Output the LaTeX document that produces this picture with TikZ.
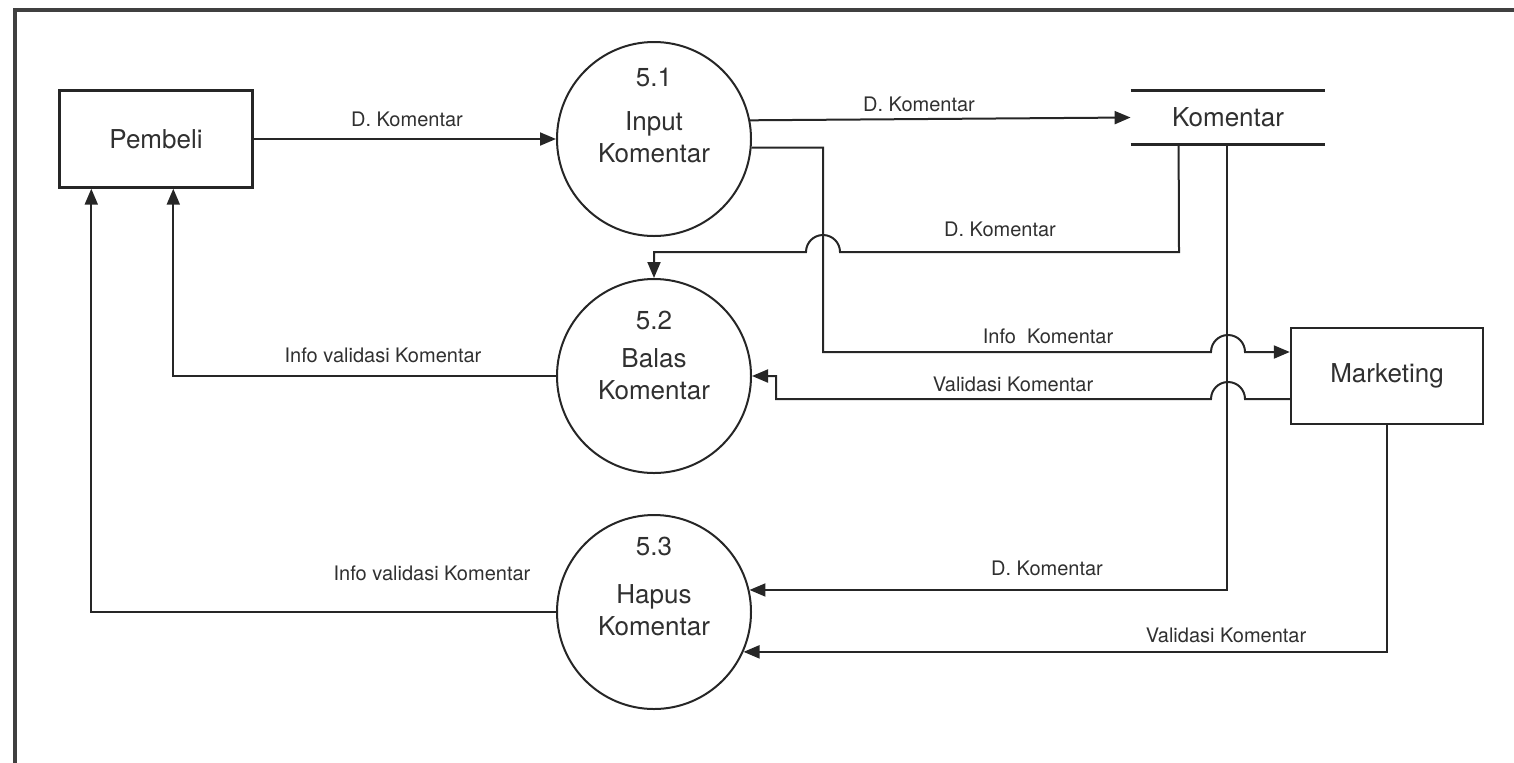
\documentclass[tikz,border=0pt]{standalone}
\usepackage{fontspec}
\setmainfont{TeX Gyre Heros}
\usetikzlibrary{arrows.meta,calc}
\definecolor{ln}{HTML}{262626}
\definecolor{tx}{HTML}{303030}
\begin{document}
\begin{tikzpicture}[x=0.5pt,y=-0.5pt,
  flow/.style={draw=ln,line width=1pt,-{Triangle[length=8pt,width=6.5pt]}},
  ent/.style={draw=ln,line width=1.2pt,minimum width=96.5pt,minimum height=48.5pt,inner sep=0pt,text=tx,font=\fontsize{13}{15}\selectfont},
  proc/.style={draw=ln,line width=1pt,circle,minimum size=97pt,inner sep=0pt},
  ptext/.style={inner sep=0pt,align=center,text=tx,font=\fontsize{13}{16}\selectfont},
  lbl/.style={inner sep=0pt,text=tx,font=\fontsize{10}{12}\selectfont}]
\useasboundingbox (0,0) rectangle (1514,762);
% frame (cropped at right and bottom)
\draw[line width=2pt,draw=black!75] (15,800) -- (15,10) -- (1540,10);

% entities
\node[ent] (pem) at (156,139) {Pembeli};
\node[ent,minimum width=96pt,minimum height=48pt] (mk) at (1387,376) {Marketing};

% data store
\node[inner sep=0pt,minimum width=97pt,minimum height=26.5pt,text=tx,font=\fontsize{13}{15}\selectfont] (store) at (1228,117.5) {Komentar};
\draw[draw=ln,line width=1.2pt] (store.north west) -- (store.north east);
\draw[draw=ln,line width=1.2pt] (store.south west) -- (store.south east);

% processes
\node[proc] (c1) at (654,139) {};
\node[ptext] (n1) at ($(c1)+(0,-62)$) {5.1};
\node[ptext] (t1) at ($(c1)+(0,-2)$) {Input\\Komentar};
\node[proc] (c2) at (654,376) {};
\node[ptext] (n2) at ($(c2)+(0,-56)$) {5.2};
\node[ptext] (t2) at ($(c2)+(0,-2)$) {Balas\\Komentar};
\node[proc] (c3) at (654,612) {};
\node[ptext] (n3) at ($(c3)+(0,-66)$) {5.3};
\node[ptext] (t3) at ($(c3)+(0,-2)$) {Hapus\\Komentar};

% connectors
\draw[flow] (pem.east) -- (c1.west);
\draw[flow] (c1.11.3) -- (store.west);
\draw[flow] (c1.-5.3) -| (823,352) -- (1211,352)
   arc[start angle=180,end angle=0,radius=8.5pt] -- ($(mk.west)+(0,-24)$);
\draw[flow] ($(store.south west)+(48,0)$) -- (1179,252) -- (840,252)
   arc[start angle=0,end angle=180,radius=8.5pt] -| (c2.north);
\draw[flow] ($(mk.west)+(0,23)$) -- (1245,399)
   arc[start angle=0,end angle=180,radius=8.5pt] -- (776,399) |- (c2.east);
\draw[flow] (c2.west) -| ($(pem.south west)+(115,0)$);
\draw[flow] ($(store.south west)+(96,0)$) |- (c3.13.7);
\draw[flow] (mk.south) |- (c3.-24.4);
\draw[flow] (c3.west) -| ($(pem.south west)+(33,0)$);

% labels
\node[lbl] (l1) at (407,119) {D. Komentar};
\node[lbl] (l2) at (919,104) {D. Komentar};
\node[lbl] (l3) at (1000,229) {D. Komentar};
\node[lbl] (l4) at (1048,336) {Info\ \ Komentar};
\node[lbl] (l5) at (1013,384) {Validasi Komentar};
\node[lbl] (l6) at (383,355) {Info validasi Komentar};
\node[lbl] (l7) at (432,573) {Info validasi Komentar};
\node[lbl] (l8) at (1047,568) {D. Komentar};
\node[lbl] (l9) at (1226,635) {Validasi Komentar};
\end{tikzpicture}
\end{document}
